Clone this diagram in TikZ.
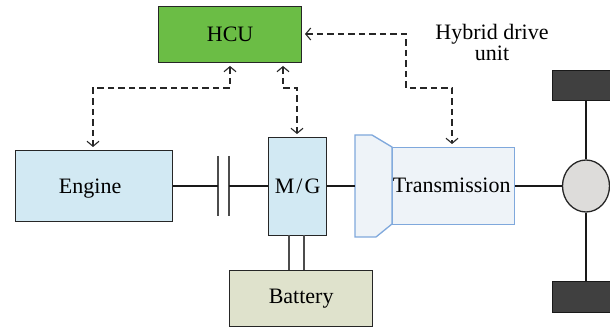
\documentclass[tikz,border=0pt]{standalone}
\usepackage{fontspec}
\setmainfont{Liberation Serif}
\usetikzlibrary{arrows.meta,shapes.geometric}
\definecolor{hcugreen}{HTML}{6BBD45}
\definecolor{engineblue}{HTML}{D2E9F3}
\definecolor{batterygreen}{HTML}{DFE2CC}
\definecolor{gearblue}{HTML}{EEF3F8}
\definecolor{gearline}{HTML}{7FA8DC}
\definecolor{diffgray}{HTML}{DDDCDA}
\definecolor{wheelgray}{HTML}{404040}
\tikzset{
   unit/.style={draw=black!85,line width=1.3pt,anchor=north west,inner sep=0pt,text height=16pt,text depth=2pt,font=\fontsize{22}{24}\selectfont},
   link/.style={draw=black!90,line width=1.1pt},
   signal/.style={draw=black!85,line width=1.1pt,dash pattern=on 6.5pt off 4pt,{Straight Barb[length=5pt,width=12pt]}-{Straight Barb[length=5pt,width=12pt]}}
}
\begin{document}
\begin{tikzpicture}[x=1pt,y=-1pt]
   \useasboundingbox (0,0) rectangle (610,328);

   \node[unit,fill=hcugreen,minimum width=143pt,minimum height=56pt] (hcu) at (158,6) {HCU};
   \node[unit,fill=engineblue,minimum width=157pt,minimum height=71pt] (engine) at (15,150) {Engine\kern8pt};
   \node[unit,fill=engineblue,minimum width=58pt,minimum height=98pt] (mg) at (268,137) {M\kern2pt/\kern2pt G};
   \node[unit,fill=batterygreen,minimum width=143pt,minimum height=56pt,text height=13pt,text depth=3pt] (battery) at (229,270) {Battery};
   \node[unit,draw=gearline,fill=gearblue,minimum width=122pt,minimum height=77pt,text height=15pt,text depth=2pt] (transmission) at (392,147) {Transmission\kern4pt};
   \node[unit,draw=black!90,fill=wheelgray,minimum width=60pt,minimum height=30pt] (topwheel) at (552,70) {};
   \node[unit,draw=black!90,fill=wheelgray,minimum width=60pt,minimum height=31pt] (bottomwheel) at (552,281) {};
   \node[draw=black!85,line width=1.3pt,fill=diffgray,ellipse,minimum width=47pt,minimum height=52pt,inner sep=0pt] (diff) at (586,186) {};
   \node[font=\fontsize{22}{21}\selectfont,align=center] (hybrid) at (492,42) {Hybrid drive\\unit};

   % torque converter
   \draw[draw=gearline,line width=1.3pt,fill=gearblue]
   (392,147) -- (372,135) -- (355,135) -- (355,237) -- (376,237) -- (392,224) -- cycle;
   \coordinate (convin) at (355,186);

   % clutch
   \coordinate (clutchl) at (218,186);
   \coordinate (clutchr) at (229,186);
   \draw[link,draw=black!70] (218,156) -- (218,216);
   \draw[link,draw=black!70] (229,156) -- (229,216);

   \draw[link] (engine.east |- clutchl) -- (clutchl);
   \draw[link] (clutchr) -- (mg.west |- clutchr);
   \draw[link] (mg.east |- convin) -- (convin);
   \draw[link] (transmission.east |- diff) -- (diff);
   \draw[link] (topwheel.south -| diff) -- (diff);
   \draw[link] (diff) -- (bottomwheel.north -| diff);

   \coordinate (batl) at (289,235);
   \coordinate (batr) at (304,235);
   \draw[link,draw=black!70] (batl) -- (batl |- battery.north);
   \draw[link,draw=black!70] (batr) -- (batr |- battery.north);

   % signals
   \coordinate (hcua) at (230,66);
   \coordinate (hcub) at (283,66);
   \coordinate (hcuc) at (305,34);
   \coordinate (enga) at (93,147);
   \coordinate (mga) at (297,134);
   \coordinate (traa) at (452,144);
   \draw[signal] (hcua) -- (230,88) -- (93,88) -- (enga);
   \draw[signal] (hcub) -- (283,88) -- (297,88) -- (mga);
   \draw[signal] (hcuc) -- (406,34) -- (406,88) -- (452,88) -- (traa);
\end{tikzpicture}
\end{document}
